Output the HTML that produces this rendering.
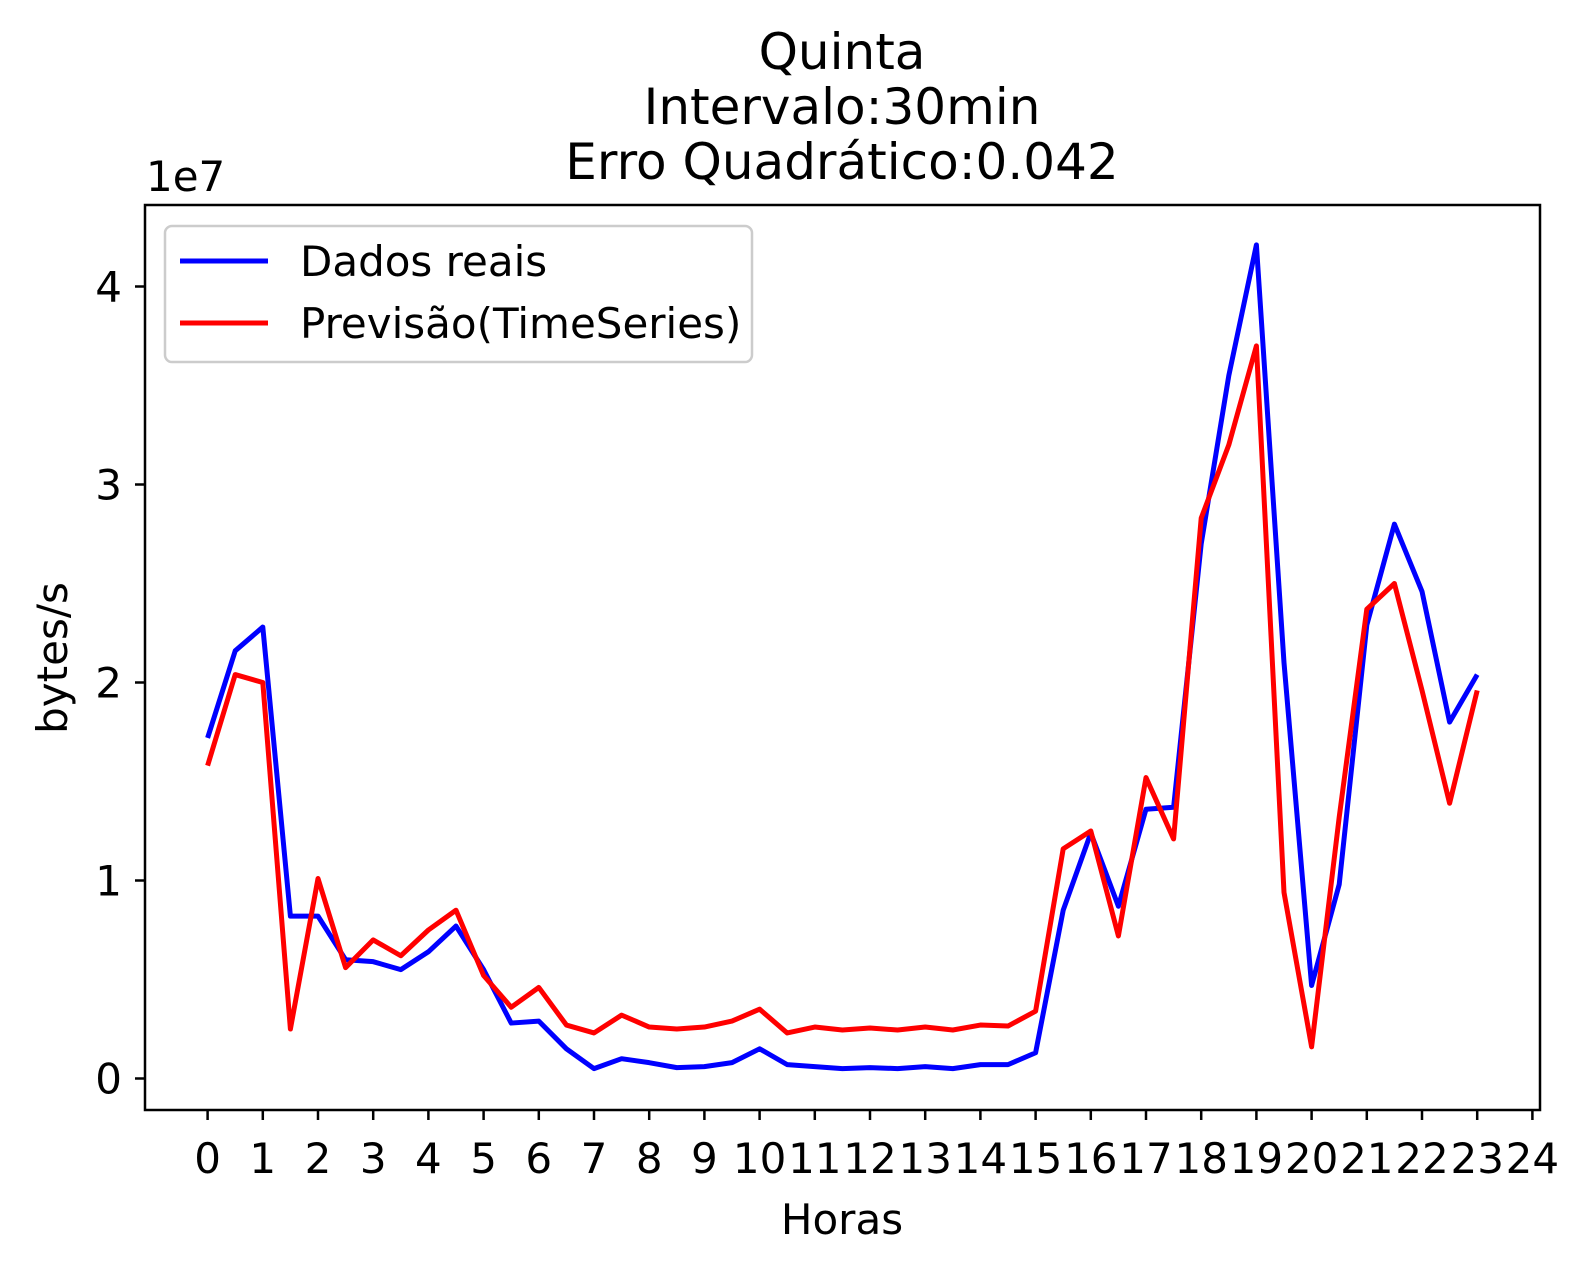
<!DOCTYPE html>
<html><head><meta charset="utf-8"><style>
body{margin:0;background:#fff;}
svg text{font-family:"DejaVu Sans","Liberation Sans",sans-serif;fill:#000;}
</style></head><body>
<svg id="chart" width="1587" height="1270" xmlns="http://www.w3.org/2000/svg">
<rect width="1587" height="1270" fill="#fff"/>
<text x="842" y="69" font-size="50" text-anchor="middle">Quinta</text>
<text x="842" y="124" font-size="50" text-anchor="middle">Intervalo:30min</text>
<text x="842" y="179" font-size="50" text-anchor="middle">Erro Quadrático:0.042</text>
<text x="146" y="191" font-size="42">1e7</text>
<g id="plot"></g>
<rect x="145" y="205" width="1395" height="905" fill="none" stroke="#000" stroke-width="2.5"/>
<text x="842" y="1234" font-size="42" text-anchor="middle">Horas</text>
<text x="67" y="658" font-size="42" text-anchor="middle" transform="rotate(-90 67 658)">bytes/s</text>
<g>
<rect x="165" y="226" width="587" height="136" rx="7" fill="#fff" fill-opacity="0.8" stroke="#ccc" stroke-width="2.5"/>
<line x1="180" y1="261" x2="268" y2="261" stroke="#0000ff" stroke-width="5"/>
<text x="300" y="276" font-size="42">Dados reais</text>
<line x1="180" y1="323" x2="268" y2="323" stroke="#ff0000" stroke-width="5"/>
<text x="300" y="338" font-size="42">Previsão(TimeSeries)</text>
</g>
</svg>
<script>
const xTicks=[0,1,2,3,4,5,6,7,8,9,10,11,12,13,14,15,16,17,18,19,20,21,22,23,24];
const yTicks=[0,1,2,3,4];
const realValues=[1.72,2.16,2.28,0.82,0.82,0.60,0.59,0.55,0.64,0.77,0.55,0.28,0.29,0.15,0.05,0.10,0.08,0.055,0.06,0.08,0.15,0.07,0.06,0.05,0.055,0.05,0.06,0.05,0.07,0.07,0.13,0.85,1.24,0.87,1.36,1.37,2.70,3.55,4.21,2.10,0.47,0.98,2.29,2.80,2.46,1.80,2.04];
const forecastValues=[1.58,2.04,2.00,0.25,1.01,0.56,0.70,0.62,0.75,0.85,0.52,0.36,0.46,0.27,0.23,0.32,0.26,0.25,0.26,0.29,0.35,0.23,0.26,0.245,0.255,0.245,0.26,0.245,0.27,0.265,0.34,1.16,1.25,0.72,1.52,1.21,2.83,3.20,3.70,0.94,0.16,1.32,2.37,2.50,1.96,1.39,1.96];
const NS="http://www.w3.org/2000/svg";
const xs=h=>207.6+h*55.2;
const ys=v=>1078.5-v*198.0;
const plot=document.getElementById('plot');
function mk(t,a){const e=document.createElementNS(NS,t);for(const k in a)e.setAttribute(k,a[k]);return e;}
xTicks.forEach(t=>{
  const l=mk('line',{x1:xs(t),x2:xs(t),y1:1110,y2:1120,stroke:'#000','stroke-width':2.5});
  
  
  plot.appendChild(l);
  const tx=mk('text',{x:xs(t),y:1173,'font-size':42,'text-anchor':'middle'});
  tx.textContent=t;
  
  
  plot.appendChild(tx);
});
yTicks.forEach(t=>{
  const l=mk('line',{x1:135,x2:145,y1:ys(t),y2:ys(t),stroke:'#000','stroke-width':2.5});
  
  
  plot.appendChild(l);
  const tx=mk('text',{x:122,y:ys(t)+15,'font-size':42,'text-anchor':'end'});
  tx.textContent=t;
  
  
  plot.appendChild(tx);
});
function series(vals,color,name){
  const pts=vals.map((v,i)=>xs(i*0.5)+','+ys(v)).join(' ');
  const p=mk('polyline',{points:pts,fill:'none',stroke:color,'stroke-width':5,'stroke-linejoin':'round'});
  
  
  plot.appendChild(p);
}
series(realValues,'#0000ff','real-data-line');
series(forecastValues,'#ff0000','forecast-line');
</script>
</body></html>
